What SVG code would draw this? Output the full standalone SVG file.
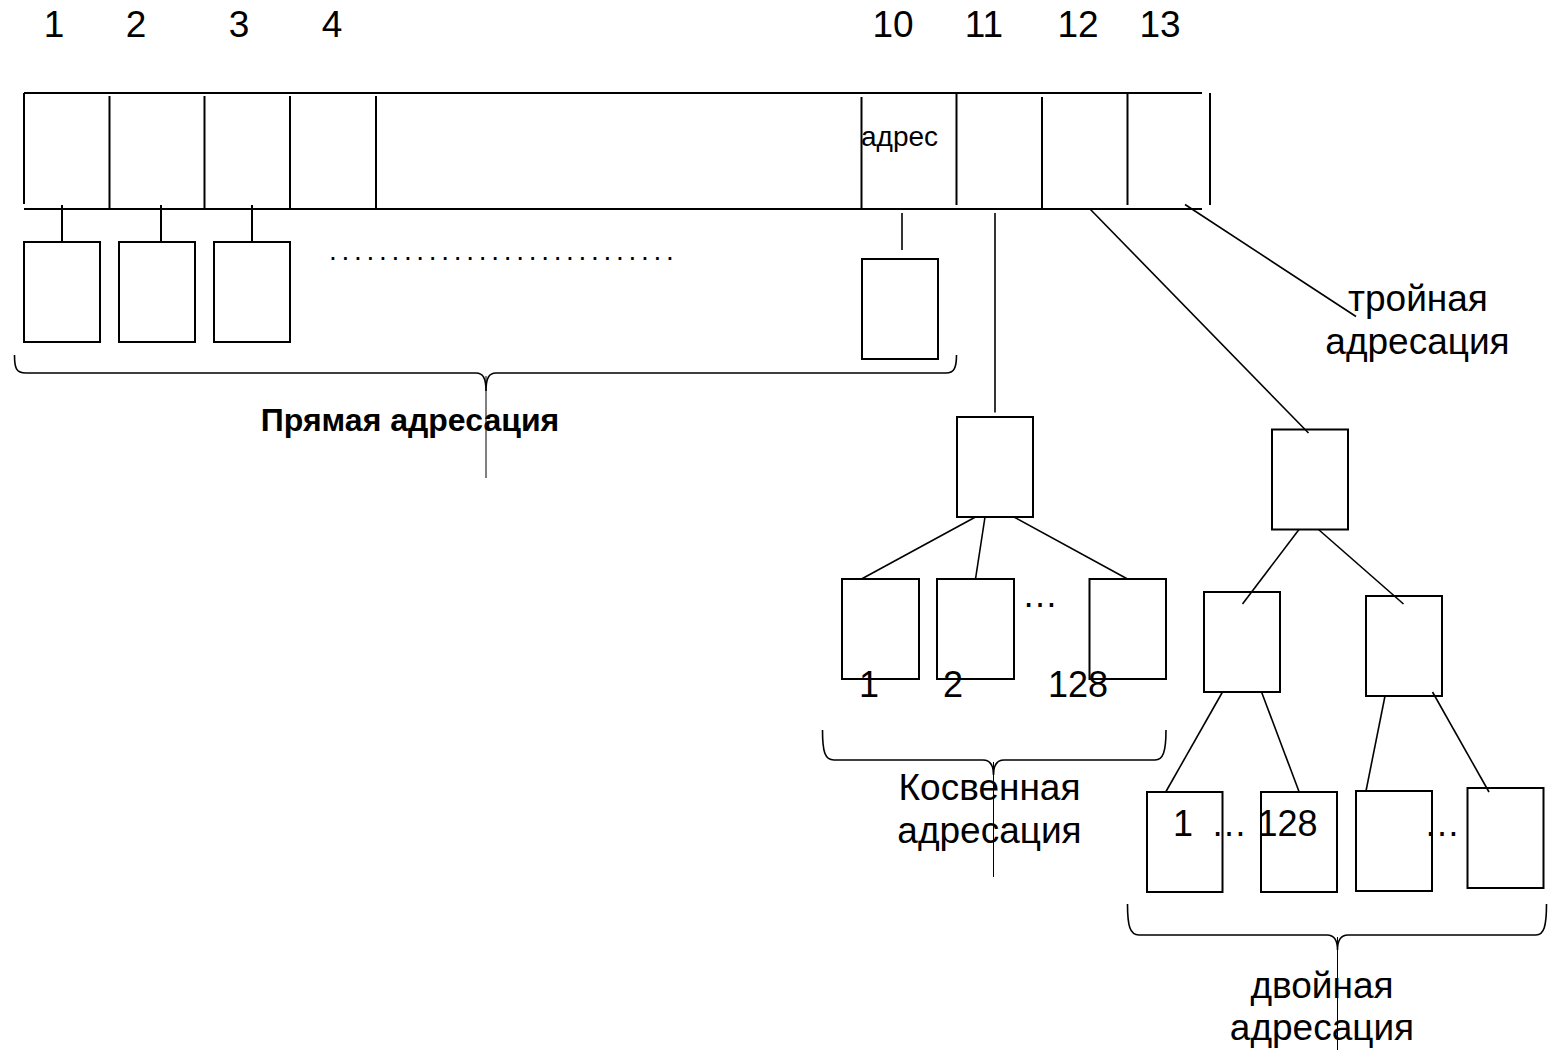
<svg xmlns="http://www.w3.org/2000/svg" width="1556" height="1052" viewBox="0 0 1556 1052">
  <style>
    .ln { stroke: #000; stroke-width: 2; fill: none; }
    .thin { stroke: #000; stroke-width: 1.6; fill: none; }
    .hair { stroke: #000; stroke-width: 1; fill: none; }
    .blk { stroke: #000; stroke-width: 2; fill: #fff; }
    .brace { stroke: #000; stroke-width: 1.6; fill: none; }
    text { font-family: "Liberation Sans", Arial, sans-serif; fill: #000; }
    .big { font-size: 37px; }
    .mid { font-size: 36px; }
    .sm { font-size: 28px; }
    .bold { font-size: 32px; font-weight: bold; }
    .c { text-anchor: middle; }
  </style>

  <!-- slot numbers above the inode table -->
  <g id="slot-numbers" class="big c">
    <text x="54" y="37">1</text>
    <text x="136" y="37">2</text>
    <text x="239" y="37">3</text>
    <text x="332" y="37">4</text>
    <text x="893" y="37">10</text>
    <text x="984" y="37">11</text>
    <text x="1078" y="37">12</text>
    <text x="1160" y="37">13</text>
  </g>

  <!-- inode address table -->
  <g id="inode-table">
    <line class="ln" x1="24" y1="93" x2="1202" y2="93"/>
    <line class="ln" x1="24" y1="209" x2="1202" y2="209"/>
    <line class="ln" x1="24" y1="93" x2="24" y2="204"/>
    <line class="ln" x1="109.5" y1="96" x2="109.5" y2="209"/>
    <line class="ln" x1="204.5" y1="96" x2="204.5" y2="209"/>
    <line class="ln" x1="290" y1="96" x2="290" y2="209"/>
    <line class="ln" x1="376" y1="96" x2="376" y2="209"/>
    <line class="ln" x1="861.5" y1="97" x2="861.5" y2="209"/>
    <line class="ln" x1="956.5" y1="93" x2="956.5" y2="205"/>
    <line class="ln" x1="1042" y1="97" x2="1042" y2="209"/>
    <line class="ln" x1="1127.5" y1="93" x2="1127.5" y2="205"/>
    <line class="ln" x1="1210" y1="93" x2="1210" y2="205"/>
    <text class="sm" x="861" y="146">адрес</text>
  </g>

  <!-- direct data blocks -->
  <g id="direct-block-1"><rect class="blk" x="24" y="242" width="76" height="100"/></g>
  <g id="direct-block-2"><rect class="blk" x="119" y="242" width="76" height="100"/></g>
  <g id="direct-block-3"><rect class="blk" x="214" y="242" width="76" height="100"/></g>
  <g id="direct-dots">
    <text class="sm" x="329" y="260" letter-spacing="4.7">............................</text>
  </g>
  <g id="direct-block-10"><rect class="blk" x="862" y="259" width="76" height="100"/></g>

  <!-- single indirect block and its data blocks -->
  <g id="indirect-index"><rect class="blk" x="957" y="417" width="76" height="100"/></g>
  <g id="indirect-block-1"><rect class="blk" x="842" y="579" width="77" height="100"/></g>
  <g id="indirect-block-2"><rect class="blk" x="937" y="579" width="77" height="100"/></g>
  <g id="indirect-block-128"><rect class="blk" x="1089.5" y="579" width="76.5" height="100"/></g>
  <g id="indirect-labels" class="mid">
    <text x="1022" y="607">…</text>
    <text class="c" x="869" y="697">1</text>
    <text class="c" x="953" y="697">2</text>
    <text class="c" x="1078" y="697">128</text>
  </g>

  <!-- double indirect tree -->
  <g id="double-index"><rect class="blk" x="1272" y="429.5" width="76" height="100"/></g>
  <g id="double-sub-1"><rect class="blk" x="1204" y="592" width="76" height="100"/></g>
  <g id="double-sub-2"><rect class="blk" x="1366" y="596" width="76" height="100"/></g>
  <g id="double-block-1"><rect class="blk" x="1147" y="792" width="75.5" height="100"/></g>
  <g id="double-block-2"><rect class="blk" x="1261" y="792" width="76" height="100"/></g>
  <g id="double-block-3"><rect class="blk" x="1356" y="791" width="76" height="100"/></g>
  <g id="double-block-4"><rect class="blk" x="1467.5" y="788" width="76" height="100"/></g>
  <g id="double-labels" class="mid">
    <text x="1173" y="836">1</text>
    <text x="1211" y="836">…</text>
    <text x="1257.5" y="836">128</text>
    <text x="1424" y="836">…</text>
  </g>

  <!-- connectors -->
  <g id="connectors">
    <line class="ln" x1="62" y1="205" x2="62" y2="242"/>
    <line class="ln" x1="161" y1="205" x2="161" y2="242"/>
    <line class="ln" x1="252" y1="205" x2="252" y2="242"/>
    <line class="thin" x1="902" y1="213" x2="902" y2="250"/>

    <line class="thin" x1="995" y1="213" x2="995" y2="412.5"/>
    <line class="thin" x1="975.5" y1="517" x2="861.5" y2="579"/>
    <line class="thin" x1="985" y1="517" x2="975.5" y2="579"/>
    <line class="thin" x1="1014" y1="517" x2="1127.5" y2="579"/>

    <line class="thin" x1="1090" y1="209" x2="1308.5" y2="433"/>
    <line class="thin" x1="1299" y1="529.5" x2="1242.5" y2="604"/>
    <line class="thin" x1="1318.5" y1="529.5" x2="1403.5" y2="604"/>
    <line class="thin" x1="1222.5" y1="692" x2="1166" y2="791.5"/>
    <line class="thin" x1="1261.5" y1="692" x2="1299" y2="791.5"/>
    <line class="thin" x1="1385" y1="696" x2="1366" y2="791"/>
    <line class="thin" x1="1432.5" y1="692" x2="1489" y2="792"/>

    <line class="thin" x1="1185" y1="204.5" x2="1356" y2="316.5"/>
  </g>

  <!-- braces with captions -->
  <g id="direct-brace">
    <path class="brace" d="M14.5,355 C14.5,368 16,373 26,373 H476 C483,373 486,378 486,391 C486,378 489,373 496,373 H946 C954,373 956.5,368 956.5,355"/>
    <line class="hair" x1="486" y1="376" x2="486" y2="478"/>
    <text class="bold c" x="410" y="431">Прямая адресация</text>
  </g>

  <g id="indirect-brace">
    <path class="brace" d="M822.5,730 C822.5,752 825,760 834,760 H983 C990,760 993.5,765 993.5,775 C993.5,765 997,760 1004,760 H1155 C1163,760 1166,752 1166,730"/>
    <line class="hair" x1="993.5" y1="762" x2="993.5" y2="877"/>
    <text class="big c" x="989.5" y="800">Косвенная</text>
    <text class="big c" x="989.5" y="843">адресация</text>
  </g>

  <g id="double-brace">
    <path class="brace" d="M1127.5,904 C1127.5,926 1130,935 1139,935 H1327 C1334,935 1337.5,940 1337.5,950 C1337.5,940 1341,935 1348,935 H1536 C1544,935 1546.5,926 1546.5,904"/>
    <line class="hair" x1="1337.5" y1="937" x2="1337.5" y2="1050"/>
    <text class="big c" x="1322" y="998">двойная</text>
    <text class="big c" x="1322" y="1040">адресация</text>
  </g>

  <g id="triple-label">
    <text class="big c" x="1418" y="311">тройная</text>
    <text class="big c" x="1417.5" y="354">адресация</text>
  </g>
</svg>
